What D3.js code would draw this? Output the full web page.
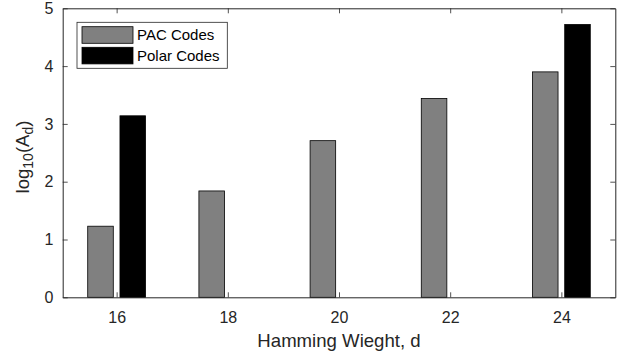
<!DOCTYPE html>
<html><head><meta charset="utf-8">
<script src="https://cdn.jsdelivr.net/npm/d3@7"></script>
<style>body{margin:0;background:#fff}svg{display:block}text{font-family:"Liberation Sans",Arial,sans-serif}</style>
</head><body><svg id="c" width="621" height="353"></svg>
<script>
const weights = [16, 18, 20, 22, 24];
const pacValues = [1.23, 1.84, 2.71, 3.44, 3.90];
const polarValues = [3.14, 0, 0, 0, 4.72];
const seriesNames = ["PAC Codes", "Polar Codes"];
const seriesColors = ["#808080", "#000000"];
const yTicks = [0, 1, 2, 3, 4, 5];

const svg = d3.select("#c");
const m = {l: 62.7, r: 615.3, t: 8.3, b: 297.3};
const x = d3.scaleLinear().domain([15.03, 24.97]).range([m.l, m.r]);
const y = d3.scaleLinear().domain([0, 5]).range([m.b, m.t]);
const axisCol = "#262626";
const barW = 0.46, off = 0.29;

svg.append("rect").attr("x", m.l).attr("y", m.t).attr("width", m.r - m.l).attr("height", m.b - m.t).attr("fill", "#fff");

const series = [pacValues, polarValues];
series.forEach((vals, si) => {
  svg.append("g").selectAll("rect").data(weights.map((w, i) => ({w, v: vals[i]})).filter(d => d.v > 0))
    .join("rect")
    .attr("x", d => x(d.w + (si === 0 ? -off : off) - barW / 2))
    .attr("width", d => x(d.w + barW / 2) - x(d.w - barW / 2))
    .attr("y", d => y(d.v))
    .attr("height", d => y(0) - y(d.v))
    .attr("fill", seriesColors[si])
    .attr("stroke", "#000").attr("stroke-width", 0.8);
});

// axes
const gx = svg.append("g").attr("transform", `translate(0,${m.b})`)
  .call(d3.axisBottom(x).tickValues(weights).tickSizeInner(-5).tickSizeOuter(0).tickPadding(14.6));
const gy = svg.append("g").attr("transform", `translate(${m.l},0)`)
  .call(d3.axisLeft(y).tickValues(yTicks).tickFormat(d3.format("d")).tickSizeInner(-5).tickSizeOuter(0).tickPadding(9.2));
const gxt = svg.append("g").attr("transform", `translate(0,${m.t})`)
  .call(d3.axisTop(x).tickValues(weights).tickSizeInner(-5).tickSizeOuter(0).tickFormat(""));
const gyr = svg.append("g").attr("transform", `translate(${m.r},0)`)
  .call(d3.axisRight(y).tickValues(yTicks).tickSizeInner(-5).tickSizeOuter(0).tickFormat(""));
[gx, gy, gxt, gyr].forEach(g => {
  g.selectAll("path.domain").attr("stroke", axisCol).attr("stroke-width", 1);
  g.selectAll(".tick line").attr("stroke", axisCol).attr("stroke-width", 0.8);
  g.selectAll("text").attr("fill", axisCol).style("font-size", "16px").style("font-family", '"Liberation Sans",Arial,sans-serif');
});

// axis labels
svg.append("text").attr("x", (m.l + m.r) / 2).attr("y", 347).attr("text-anchor", "middle")
  .attr("fill", axisCol).style("font-size", "18.6px").text("Hamming Wieght, d");
const yl = svg.append("text").attr("transform", `translate(29,157) rotate(-90)`)
  .attr("text-anchor", "middle").attr("fill", axisCol).style("font-size", "18.6px");
yl.append("tspan").text("log");
yl.append("tspan").attr("dy", 4).style("font-size", "14px").text("10");
yl.append("tspan").attr("dy", -4).text("(A");
yl.append("tspan").attr("dy", 4).style("font-size", "14px").text("d");
yl.append("tspan").attr("dy", -4).text(")");

// legend
const lg = svg.append("g");
lg.append("rect").attr("x", 77).attr("y", 22.3).attr("width", 150.3).attr("height", 46)
  .attr("fill", "#fff").attr("stroke", axisCol).attr("stroke-width", 0.8);
seriesNames.forEach((n, i) => {
  const yy = 26.7 + i * 20.6;
  lg.append("rect").attr("x", 82).attr("y", yy).attr("width", 51).attr("height", 16.6)
    .attr("fill", seriesColors[i]).attr("stroke", "#000").attr("stroke-width", 0.8);
  lg.append("text").attr("x", 137).attr("y", yy + 13.5).attr("fill", "#000")
    .style("font-size", "15px").text(n);
});
</script></body></html>
